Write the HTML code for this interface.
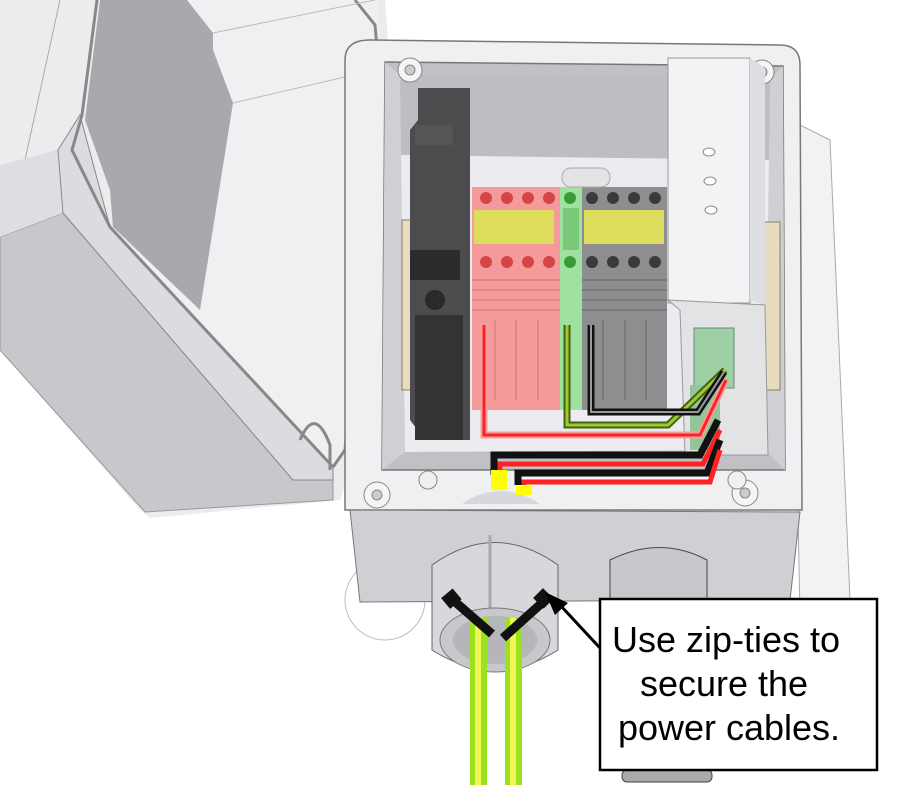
<!DOCTYPE html>
<html><head><meta charset="utf-8"><style>
html,body{margin:0;padding:0;background:#fff;width:913px;height:795px;overflow:hidden}
svg{display:block}
</style></head><body>
<svg width="913" height="795" viewBox="0 0 913 795" xmlns="http://www.w3.org/2000/svg">
<!-- lid -->
<path d="M0,0 L385,0 L388,40 L350,470 L340,500 L150,518 L140,510 L0,350 Z" fill="#ececef"/>
<line x1="60" y1="0" x2="25" y2="160" stroke="#aaa"/>
<path d="M0,237 L63,213 L293,480 L333,480 L333,500 L145,512 L0,350 Z" fill="#c8c8cc" stroke="#999"/>
<path d="M0,165 L58,150 L63,213 L0,237 Z" fill="#dedee2"/>
<path d="M63,213 L58,150 L80,115 L110,227 L333,467 L333,480 L293,480 Z" fill="#dcdce0" stroke="#888"/>
<path d="M187,0 L378,0 L380,60 L345,450 L333,467 L110,227 L200,310 L233,103 L213,50 L213,33 Z" fill="#f0f0f3"/>
<path d="M100,0 L187,0 L213,33 L213,50 L233,103 L200,310 L113,227 L110,190 L85,120 Z" fill="#a8a8ad"/>
<path d="M97,0 L82,115 L72,150 L110,227 L333,467" fill="none" stroke="#888" stroke-width="3"/>
<path d="M355,0 L375,25 L378,60 L345,450 L333,467" fill="none" stroke="#888" stroke-width="3"/>
<line x1="213" y1="33" x2="375" y2="0" stroke="#bbb"/>
<line x1="233" y1="103" x2="375" y2="70" stroke="#bbb"/>
<path d="M300,440 Q315,405 330,445 L330,470" fill="none" stroke="#888" stroke-width="3"/>
<!-- box body back/right -->
<path d="M790,120 L830,140 L850,600 L800,615 Z" fill="#f2f2f4" stroke="#aaa"/>
<path d="M345,60 Q345,40 370,40 L780,45 Q800,45 800,65 L802,510 L345,510 Z" fill="#f0f0f2" stroke="#777" stroke-width="1.5"/>
<circle cx="385" cy="600" r="40" fill="none" stroke="#bbb"/>
<path d="M350,510 L800,512 L790,600 L360,602 Z" fill="#d0d0d4" stroke="#777"/>
<!-- interior -->
<path d="M385,62 L783,66 L785,470 L382,470 Z" fill="#c0c0c5" stroke="#777" stroke-width="1.5"/>
<path d="M400,75 L770,80 L770,160 L400,155 Z" fill="#bdbdc2"/>
<path d="M400,155 L770,160 L765,450 L405,452 Z" fill="#ececf0"/>
<path d="M385,62 L400,75 L405,452 L382,470 Z" fill="#cfcfd4"/>
<path d="M783,66 L770,80 L765,450 L785,470 Z" fill="#cfcfd4"/>
<circle cx="410" cy="70" r="12" fill="#f5f5f5" stroke="#888"/><circle cx="410" cy="70" r="5" fill="#ccc" stroke="#888"/>
<circle cx="762" cy="72" r="12" fill="#f5f5f5" stroke="#888"/><circle cx="762" cy="72" r="5" fill="#ccc" stroke="#888"/>
<circle cx="377" cy="495" r="13" fill="#f5f5f5" stroke="#888"/><circle cx="377" cy="495" r="5" fill="#ccc" stroke="#888"/>
<circle cx="745" cy="493" r="13" fill="#f5f5f5" stroke="#888"/><circle cx="745" cy="493" r="5" fill="#ccc" stroke="#888"/>
<circle cx="428" cy="480" r="9" fill="#f0f0f0" stroke="#888"/>
<circle cx="737" cy="480" r="9" fill="#f0f0f0" stroke="#888"/>
<path d="M462,504 Q500,478 540,504 Z" fill="#d8d8dc"/>
<rect x="402" y="220" width="18" height="170" fill="#e8dcc0" stroke="#8a7f66"/>
<rect x="762" y="222" width="18" height="168" fill="#e8dcc0" stroke="#8a7f66"/>
<path d="M418,88 L470,88 L470,440 L425,440 L410,420 L410,130 L418,120 Z" fill="#4c4c4e"/>
<rect x="415" y="125" width="38" height="20" fill="#555"/>
<rect x="410" y="250" width="50" height="30" fill="#2c2c2e"/>
<circle cx="435" cy="300" r="10" fill="#2a2a2a"/>
<rect x="415" y="315" width="48" height="125" fill="#333"/>
<rect x="472" y="187" width="88" height="223" fill="#f49a9a"/>
<rect x="560" y="187" width="22" height="223" fill="#9fe29f"/>
<rect x="582" y="187" width="85" height="223" fill="#8e8e90"/>
<g stroke="#d07070" stroke-width="1"><line x1="472" y1="280" x2="560" y2="280"/><line x1="472" y1="290" x2="560" y2="290"/><line x1="472" y1="300" x2="560" y2="300"/><line x1="472" y1="310" x2="560" y2="310"/><line x1="495" y1="320" x2="495" y2="400"/><line x1="516" y1="320" x2="516" y2="400"/><line x1="538" y1="320" x2="538" y2="400"/></g>
<g stroke="#666" stroke-width="1"><line x1="582" y1="280" x2="667" y2="280"/><line x1="582" y1="290" x2="667" y2="290"/><line x1="582" y1="300" x2="667" y2="300"/><line x1="582" y1="310" x2="667" y2="310"/><line x1="603" y1="320" x2="603" y2="400"/><line x1="625" y1="320" x2="625" y2="400"/><line x1="646" y1="320" x2="646" y2="400"/></g>
<g fill="#d64545"><circle cx="486" cy="198" r="6"/><circle cx="507" cy="198" r="6"/><circle cx="528" cy="198" r="6"/><circle cx="549" cy="198" r="6"/>
<circle cx="486" cy="262" r="6"/><circle cx="507" cy="262" r="6"/><circle cx="528" cy="262" r="6"/><circle cx="549" cy="262" r="6"/></g>
<g fill="#3a9a3a"><circle cx="570" cy="198" r="6"/><circle cx="570" cy="262" r="6"/></g>
<g fill="#3a3a3a"><circle cx="592" cy="198" r="6"/><circle cx="613" cy="198" r="6"/><circle cx="634" cy="198" r="6"/><circle cx="655" cy="198" r="6"/>
<circle cx="592" cy="262" r="6"/><circle cx="613" cy="262" r="6"/><circle cx="634" cy="262" r="6"/><circle cx="655" cy="262" r="6"/></g>
<rect x="474" y="210" width="80" height="34" fill="#dedc5c"/>
<rect x="584" y="210" width="80" height="34" fill="#dedc5c"/>
<rect x="563" y="208" width="16" height="42" fill="#7bc87b"/>
<rect x="562" y="168" width="48" height="19" rx="9" fill="#e4e4e6" stroke="#aaa"/>
<rect x="668" y="58" width="82" height="245" fill="#f3f3f5" stroke="#999"/>
<path d="M750,58 L765,68 L765,305 L750,300 Z" fill="#dedee2"/>
<path d="M668,300 L765,305 L768,455 L685,455 L680,310 Z" fill="#e3e3e6" stroke="#999"/>
<ellipse cx="709" cy="152" rx="6" ry="4" fill="#fff" stroke="#888"/><ellipse cx="710" cy="181" rx="6" ry="4" fill="#fff" stroke="#888"/><ellipse cx="711" cy="210" rx="6" ry="4" fill="#fff" stroke="#888"/>
<rect x="694" y="328" width="40" height="60" fill="#9fcfa5" stroke="#687"/>
<rect x="690" y="385" width="30" height="65" fill="#93c49a"/>
<g fill="none" stroke-linejoin="miter">
<path d="M484,325 L484,435 L700,435 L726,380" stroke="#f0a0a0" stroke-width="7"/>
<path d="M484,325 L484,435 L700,435 L726,380" stroke="#f22" stroke-width="3"/>
<path d="M567,325 L567,425 L668,425 L725,370" stroke="#4a6010" stroke-width="7"/>
<path d="M567,325 L567,425 L668,425 L725,370" stroke="#9c3" stroke-width="3"/>
<path d="M591,325 L591,412 L698,412 L724,372" stroke="#111" stroke-width="7"/>
<path d="M591,325 L591,412 L698,412 L724,372" stroke="#999" stroke-width="2"/>
<path d="M494,475 L494,455 L700,455 L718,420" stroke="#111" stroke-width="7"/>
<path d="M500,475 L500,464 L703,464 L720,430" stroke="#f22" stroke-width="5"/>
<path d="M518,485 L518,473 L707,473 L720,440" stroke="#111" stroke-width="7"/>
<path d="M524,485 L524,482 L710,482 L720,450" stroke="#f22" stroke-width="5"/>
</g>
<rect x="491" y="470" width="16" height="20" fill="#ff0"/>
<rect x="516" y="486" width="16" height="9" fill="#ff0"/>
<path d="M610,560 Q660,535 707,560 L707,600 L610,600 Z" fill="#c8c8cc" stroke="#444"/>
<rect x="622" y="770" width="90" height="12" rx="5" fill="#aaa" stroke="#444"/>
<path d="M432,565 Q495,520 558,565 L558,650 Q495,690 432,650 Z" fill="#d8d8dc" stroke="#666"/>
<line x1="490" y1="535" x2="490" y2="610" stroke="#aaa" stroke-width="3"/>
<ellipse cx="495" cy="640" rx="55" ry="32" fill="#c8c8cc" stroke="#777"/>
<ellipse cx="495" cy="640" rx="42" ry="24" fill="#b5b5ba"/>
<rect x="470" y="618" width="17" height="167" fill="#9ae21e"/>
<rect x="475" y="618" width="6" height="167" fill="#f2f55a"/>
<rect x="505" y="618" width="17" height="167" fill="#9ae21e"/>
<rect x="510" y="618" width="6" height="167" fill="#f2f55a"/>
<path d="M453,600 L492,634" stroke="#111" stroke-width="9"/>
<rect x="444" y="592" width="15" height="14" fill="#111" transform="rotate(-40 451 599)"/>
<path d="M543,602 L503,638" stroke="#111" stroke-width="9"/>
<rect x="536" y="591" width="14" height="15" fill="#111" transform="rotate(-45 543 598)"/>
<line x1="600" y1="648" x2="560" y2="605" stroke="#000" stroke-width="3"/>
<path d="M545,592 L568,603 L555,615 Z" fill="#000"/>
<rect x="600" y="599" width="277" height="171" fill="#fff" stroke="#000" stroke-width="2.5"/>
<text font-family="Liberation Sans, sans-serif" font-size="36" fill="#000" text-anchor="middle">
<tspan x="731" y="652">Use zip-ties to</tspan>
<tspan x="729" y="696">secure the</tspan>
<tspan x="729" y="740">power cables.</tspan>
</text>
</svg>
</body></html>
